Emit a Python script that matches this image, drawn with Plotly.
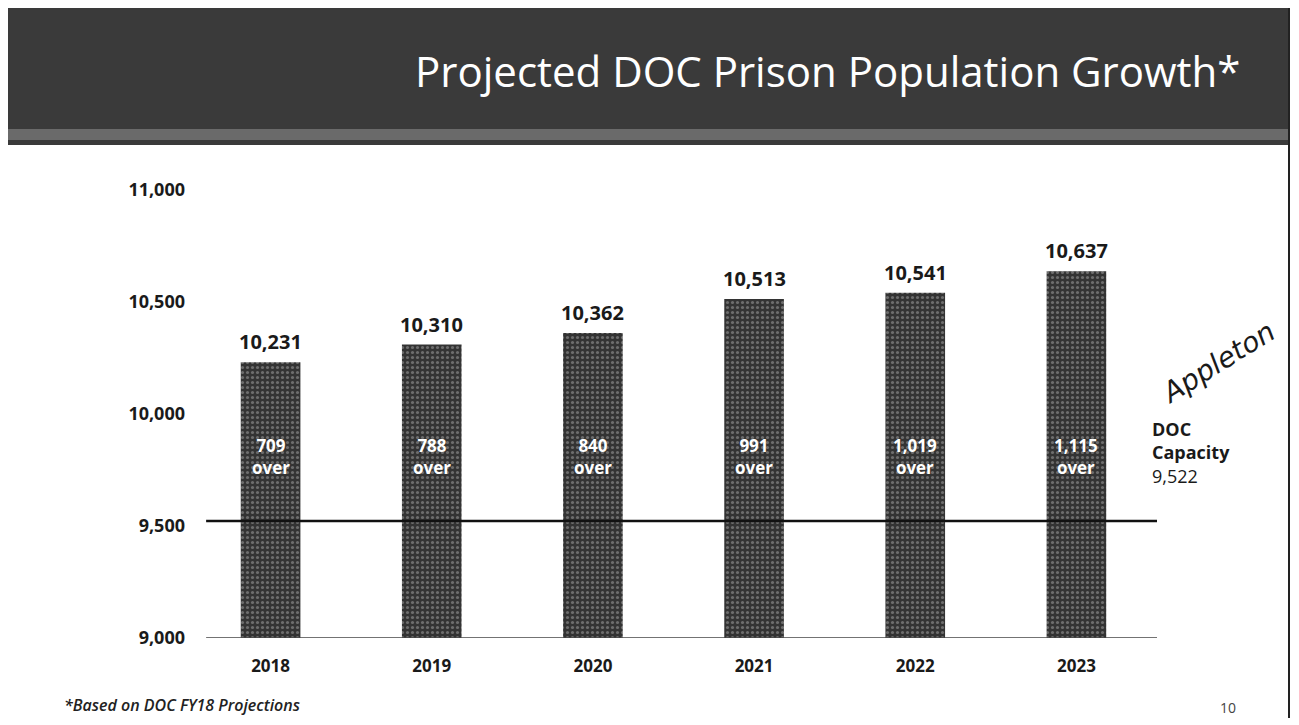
import plotly.graph_objects as go

# ---- data ----
years = ["2018", "2019", "2020", "2021", "2022", "2023"]
population = [10231, 10310, 10362, 10513, 10541, 10637]
capacity = 9522
over = [709, 788, 840, 991, 1019, 1115]
y_ticks = [9000, 9500, 10000, 10500, 11000]

title_text = "Projected DOC Prison Population Growth*"
footnote = "*Based on DOC FY18 Projections"
page_no = "10"

OFF = 8  # page body margin
W, H = 1299 - OFF, 725 - OFF
L, R, T, B = 190 - OFF, 142, 190 - OFF, 87
PW, PH = W - L - R, H - T - B


def px(x):  # target page pixel -> paper x
    return (x - OFF - L) / PW


def py(y):  # target page pixel -> paper y
    return (H - B - (y - OFF)) / PH


FONT = "Open Sans"
DARK = "#3a3a3a"
LABEL_Y = 9810

fig = go.Figure()

fig.add_trace(go.Bar(
    x=list(range(len(years))),
    y=[p - 9000 for p in population],
    base=9000,
    width=0.37,
    marker=dict(
        color=DARK,
        line=dict(width=0),
        pattern=dict(shape=".", bgcolor="#333333", fgcolor="#a8a8a8",
                     size=5, solidity=0.3, fillmode="overlay"),
    ),
    hoverinfo="skip",
    showlegend=False,
))

for i, p in enumerate(population):
    fig.add_annotation(x=i, y=p, text=f"<b>{p:,}</b>", showarrow=False,
                       yanchor="bottom", yshift=5,
                       font=dict(family=FONT, size=20, color="#1a1a1a"))
    fig.add_annotation(x=i, y=LABEL_Y, text=f"<b>{over[i]:,}<br>over</b>",
                       showarrow=False, yanchor="middle",
                       font=dict(family=FONT, size=17, color="white"))

# capacity line
fig.add_shape(type="line", xref="x", yref="y", x0=-0.4, x1=5.63,
              y0=capacity, y1=capacity, line=dict(color="#111111", width=2.5),
              layer="above")
# baseline
fig.add_shape(type="line", xref="x", yref="y", x0=-0.4, x1=5.52,
              y0=9000, y1=9000, line=dict(color="#444444", width=1.5),
              layer="above")

fig.add_annotation(xref="paper", yref="paper", x=px(1150), y=py(452),
                   text="<b>DOC<br>Capacity</b><br>" + f"{capacity:,}",
                   showarrow=False, xanchor="left", yanchor="middle", align="left",
                   font=dict(family=FONT, size=18, color="#1a1a1a"))

# title bar
fig.add_shape(type="rect", xref="paper", yref="paper",
              x0=px(5), x1=px(1290), y0=py(145), y1=py(6),
              fillcolor=DARK, line=dict(width=0), layer="below")
fig.add_shape(type="rect", xref="paper", yref="paper",
              x0=px(5), x1=px(1290), y0=py(140), y1=py(129),
              fillcolor="#6a6a6a", line=dict(width=0), layer="below")
fig.add_annotation(xref="paper", yref="paper", x=px(1242), y=py(70),
                   text=title_text, showarrow=False, xanchor="right",
                   yanchor="middle",
                   font=dict(family=FONT, size=42, color="white"))

# slide frame
fig.add_shape(type="line", xref="paper", yref="paper", x0=px(6), x1=px(6),
              y0=py(718), y1=py(6), line=dict(color="#222222", width=2))
fig.add_shape(type="line", xref="paper", yref="paper", x0=px(1289), x1=px(1289),
              y0=py(718), y1=py(6), line=dict(color="#222222", width=2))

# footnote & page number
fig.add_annotation(xref="paper", yref="paper", x=px(62), y=py(705),
                   text=f"<i>{footnote}</i>", showarrow=False, xanchor="left",
                   yanchor="middle",
                   font=dict(family=FONT, size=16, color="#222222", weight=600))
fig.add_annotation(xref="paper", yref="paper", x=px(1238), y=py(707),
                   text=page_no, showarrow=False, xanchor="right",
                   yanchor="middle",
                   font=dict(family=FONT, size=14, color="#444444"))

# handwritten note
fig.add_annotation(xref="paper", yref="paper", x=px(1218), y=py(362),
                   text="Appleton", showarrow=False, textangle=-32,
                   xanchor="center", yanchor="middle",
                   font=dict(family="DejaVu Sans", size=28, color="#1a1a1a",
                             style="italic", weight=300))

fig.update_layout(
    width=W, height=H,
    margin=dict(l=L, r=R, t=T, b=B, pad=0),
    paper_bgcolor="white", plot_bgcolor="white",
    xaxis=dict(range=[-0.5, 5.5], tickmode="array",
               tickvals=list(range(len(years))),
               ticktext=[f"<b>{y}</b>" for y in years],
               showgrid=False, zeroline=False, showline=False, ticks="",
               ticklabelstandoff=16,
               tickfont=dict(family=FONT, size=17, color="#1a1a1a"),
               fixedrange=True),
    yaxis=dict(range=[9000, 11000], tickmode="array", tickvals=y_ticks,
               ticktext=[f"<b>{v:,}</b>" for v in y_ticks],
               showgrid=False, zeroline=False, showline=False, ticks="",
               ticklabelstandoff=4,
               tickfont=dict(family=FONT, size=18, color="#1a1a1a"),
               fixedrange=True),
)

fig.write_html("out.html")
